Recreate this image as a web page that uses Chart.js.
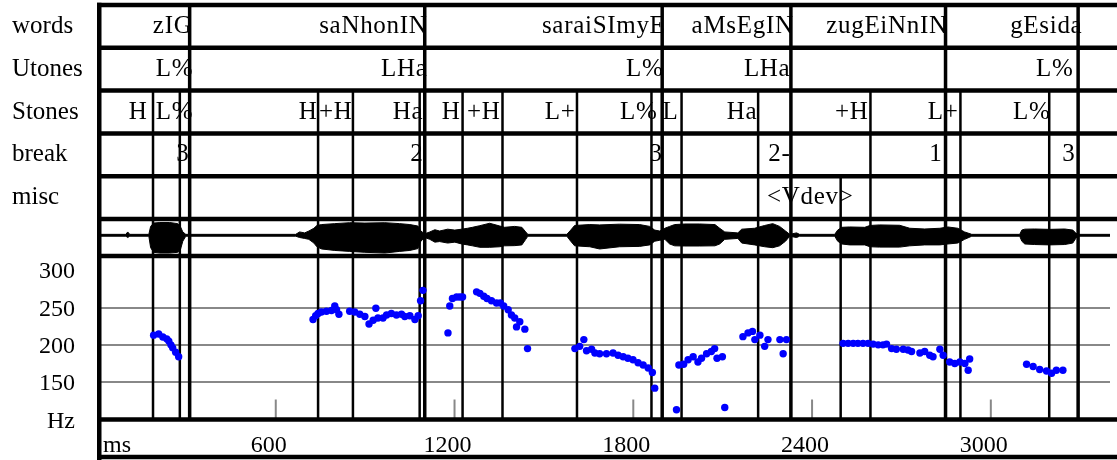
<!DOCTYPE html>
<html>
<head>
<meta charset="utf-8">
<script src="https://cdn.jsdelivr.net/npm/chart.js@4/dist/chart.umd.min.js"></script>
<style>
  html, body { margin: 0; padding: 0; background: #fff; }
</style>
</head>
<body>
<canvas id="plot" width="1117" height="460"></canvas>
<script>
// tiers (label text is right-aligned at its time, in ms)
const tierNames = ["words", "Utones", "Stones", "break", "misc"];
const wordLabels = ["zIG", "saNhonIN", "saraiSImyE", "aMsEgIN", "zugEiNnIN", "gEsida"];
const wordEndMs = [318, 1107, 1906, 2336, 2853, 3305];
const wordLineMs = [311, 1100, 1897, 2329, 2848, 3293];
const utoneLabels = ["L%", "LHa", "L%", "LHa", "L%"];
const utoneEndMs = [321, 1107, 1899, 2325, 3275];
const stoneLabels = ["H", "L%", "H", "+H", "Ha", "H", "+H", "L+", "L%", "L", "Ha", "+H", "L+", "L%"];
const stoneEndMs = [167, 321, 738, 855, 1093, 1218, 1352, 1604, 1879, 1949, 2214, 2587, 2889, 3198];
const stoneLineMs = [188, 278, 742, 859, 1083, 1227, 1361, 1611, 1861, 1962, 2219, 2596, 2898, 3196];
const breakLabels = ["3", "2", "3", "2-", "1", "3"];
const breakEndMs = [308, 1093, 1896, 2325, 2835, 3282];
const miscLabels = ["<Vdev>"];
const miscEndMs = [2537];
const miscLineMs = [2496];

// axes
const timeTicks = [600, 1200, 1800, 2400, 3000];
const hzTicks = [100, 150, 200, 250, 300];
const hzGrid = [150, 200, 250];

// waveform envelope (time ms, upper, lower)
const waveMs = [0, 97, 103, 110, 174, 180, 190, 211, 244, 271, 281, 288, 298, 667, 680, 697, 711, 728, 738, 754,
  798, 848, 899, 966, 1016, 1050, 1077, 1087, 1100, 1117, 1134, 1150, 1177, 1201, 1224, 1244, 1260, 1285, 1318,
  1352, 1368, 1402, 1426, 1439, 1446, 1577, 1590, 1603, 1654, 1687, 1754, 1821, 1855, 1872, 1889, 1906, 1922,
  1939, 1973, 2023, 2074, 2090, 2107, 2151, 2164, 2207, 2241, 2268, 2291, 2311, 2325, 2348, 2358, 2476, 2486,
  2500, 2526, 2577, 2594, 2627, 2694, 2728, 2778, 2829, 2856, 2889, 2912, 2936, 3097, 3104, 3114, 3147, 3197,
  3248, 3275, 3285, 3291, 3400];
const waveTop = [.17, .17, .30, .17, .17, .60, .78, .81, .81, .75, .55, .30, .17, .17, .30, .25, .35, .50, .65, .70,
  .75, .80, .78, .80, .75, .70, .62, .35, .20, .30, .42, .35, .45, .40, .45, .50, .55, .64, .77,
  .62, .55, .60, .55, .30, .17, .17, .40, .65, .70, .68, .72, .70, .60, .40, .35, .50, .60,
  .70, .73, .73, .70, .50, .30, .25, .45, .50, .65, .75, .60, .35, .17, .25, .17, .17, .40,
  .55, .57, .55, .65, .68, .66, .50, .46, .50, .57, .50, .30, .17, .17, .40, .45, .46, .44,
  .46, .40, .25, .17, .17];
const waveBottom = [.07, .07, .00, .07, .07, -.55, -.80, -.84, -.84, -.80, -.60, -.20, .07, .07, .00, -.05, -.10, -.30, -.50, -.62,
  -.70, -.75, -.80, -.84, -.75, -.70, -.60, -.20, .00, -.10, -.25, -.22, -.30, -.25, -.35, -.40, -.45, -.53, -.53,
  -.50, -.45, -.44, -.40, -.10, .07, .07, -.20, -.45, -.50, -.62, -.50, -.48, -.40, -.20, -.15, -.10, -.35,
  -.45, -.46, -.46, -.45, -.35, -.10, -.05, -.30, -.40, -.50, -.55, -.45, -.20, .07, .00, .07, .07, -.20,
  -.35, -.40, -.40, -.50, -.52, -.52, -.45, -.40, -.40, -.35, -.30, -.10, .07, .07, -.20, -.35, -.38, -.40,
  -.38, -.30, -.05, .07, .07];

// pitch track
const pitchMs = [190, 207, 221, 234, 241, 248, 254, 264, 274,
  725, 734, 742, 753, 770, 787, 798, 804, 812, 848, 865, 882, 899, 913, 927, 936, 943, 960, 972, 988, 1005, 1022, 1033, 1050, 1067, 1078, 1086, 1094,
  1178, 1184, 1193, 1207, 1218, 1227, 1274, 1285, 1298, 1309, 1324, 1341, 1354, 1365, 1380, 1391, 1402, 1408, 1419, 1436, 1445,
  1604, 1620, 1634, 1643, 1660, 1671, 1687, 1710, 1732, 1749, 1766, 1782, 1799, 1816, 1833, 1850, 1864, 1872,
  1945, 1953, 1969, 1984, 2001, 2017, 2029, 2046, 2062, 2073, 2081, 2099, 2107,
  2168, 2185, 2200, 2208, 2225, 2241, 2252, 2292, 2314, 2303,
  2504, 2521, 2538, 2554, 2571, 2588, 2605, 2622, 2638, 2650, 2667, 2683, 2706, 2722, 2734, 2762, 2778, 2795, 2806, 2829, 2840, 2862, 2879, 2896, 2913, 2924, 2929,
  3120, 3142, 3164, 3187, 3204, 3220, 3242];
const pitchHz = [213, 214.5, 210.5, 208, 205, 200, 196, 190, 184,
  234, 239, 242, 244, 245, 246, 252, 247, 241, 245, 244, 241, 238, 228, 233, 249, 236, 236, 240, 242, 240, 241, 238, 239, 234, 239, 259, 273,
  216, 252, 262, 264, 264, 264, 271, 269, 265, 262, 259, 256, 256, 252, 247, 240, 236, 224, 231, 221, 195,
  195, 198, 207, 192, 194, 189, 188, 188, 189, 186, 184, 182, 180, 176, 173, 169, 163, 142,
  113, 173, 174, 180, 184, 177, 182, 188, 191, 195, 182, 184, 116,
  211, 216, 218, 207, 213, 198, 207, 207, 207, 188,
  202, 202, 202, 202, 202, 202, 201, 200, 200, 201, 195, 194, 194, 193, 191, 189, 191, 186, 184, 194, 186, 177, 175, 177, 175, 166, 181,
  174, 171, 167, 165, 162, 166, 166];

const serif = { family: "Liberation Serif", size: 24 };
Chart.defaults.font.family = "Liberation Serif";

// every left axis shares one column
const fixLeft = s => { s.width = 85; s.paddingTop = 0; s.paddingBottom = 0; };

const tierPlugin = {
  id: "tiers",
  beforeDatasetsDraw(chart) {
    const { ctx, chartArea } = chart;
    const { x, yTiers, yWave, yPitch } = chart.scales;
    const rowH = (yTiers.bottom - yTiers.top) / tierNames.length;
    const left = chartArea.left;

    const seg = (x1, y1, x2, y2) => {
      ctx.beginPath();
      ctx.moveTo(x1, y1);
      ctx.lineTo(x2, y2);
      ctx.stroke();
    };

    ctx.save();

    // small grey time ticks at the bottom of the pitch panel
    ctx.strokeStyle = "#888";
    ctx.lineWidth = 2;
    timeTicks.forEach(t => {
      const px = x.getPixelForValue(t);
      seg(px, yPitch.bottom - 20, px, yPitch.bottom);
    });

    // boundary lines run from their tier down through the signals
    ctx.strokeStyle = "#000";
    ctx.lineWidth = 3.5;
    wordLineMs.forEach(t => {
      const px = x.getPixelForValue(t);
      seg(px, yTiers.top, px, yPitch.bottom);
    });
    ctx.lineWidth = 2.5;
    stoneLineMs.forEach(t => {
      const px = x.getPixelForValue(t);
      seg(px, yTiers.top + 2 * rowH, px, yPitch.bottom);
    });
    miscLineMs.forEach(t => {
      const px = x.getPixelForValue(t);
      seg(px, yTiers.top + 4 * rowH, px, yPitch.bottom);
    });

    // thick separators
    ctx.lineWidth = 4.5;
    const rows = [];
    for (let i = 0; i <= tierNames.length; i++) rows.push(yTiers.top + i * rowH);
    rows.push(yWave.bottom, yPitch.bottom, chart.height - 3);
    rows.forEach(y => seg(left, y, chart.width, y));
    seg(left + 2.25, yTiers.top - 2.25, left + 2.25, chart.height);

    // tier labels
    ctx.fillStyle = "#000";
    ctx.font = '25px "Liberation Serif"';
    ctx.letterSpacing = "0.7px";
    ctx.textAlign = "right";
    ctx.textBaseline = "middle";
    const tiers = [
      [wordLabels, wordEndMs],
      [utoneLabels, utoneEndMs],
      [stoneLabels, stoneEndMs],
      [breakLabels, breakEndMs],
      [miscLabels, miscEndMs]
    ];
    tiers.forEach(([labels, times], i) => {
      const y = yTiers.getPixelForValue(i);
      labels.forEach((lab, j) => ctx.fillText(lab, x.getPixelForValue(times[j]) + 0.7, y));
    });

    ctx.letterSpacing = "0px";
    ctx.font = '24px "Liberation Serif"';
    ctx.textAlign = "left";
    ctx.fillText("ms", x.getPixelForValue(0) + 6, yPitch.bottom + 12 + 14.4);

    ctx.restore();
  }
};

new Chart(document.getElementById("plot").getContext("2d"), {
  data: {
    datasets: [
      {
        type: "line",
        data: waveMs.map((t, i) => ({ x: t, y: waveTop[i] })),
        yAxisID: "yWave",
        borderColor: "#000",
        borderWidth: 1,
        pointRadius: 0,
        tension: 0,
        fill: false
      },
      {
        type: "line",
        data: waveMs.map((t, i) => ({ x: t, y: waveBottom[i] })),
        yAxisID: "yWave",
        borderColor: "#000",
        backgroundColor: "#000",
        borderWidth: 1,
        pointRadius: 0,
        tension: 0,
        fill: "-1"
      },
      {
        type: "scatter",
        data: pitchMs.map((t, i) => ({ x: t, y: pitchHz[i] })),
        yAxisID: "yPitch",
        backgroundColor: "#0000ff",
        borderWidth: 0,
        pointRadius: 3.7,
        pointHoverRadius: 3.7
      }
    ]
  },
  options: {
    responsive: false,
    animation: false,
    layout: { padding: { left: 12, right: 7, top: 5, bottom: 0 } },
    plugins: { legend: { display: false }, tooltip: { enabled: false } },
    scales: {
      x: {
        type: "linear",
        position: "bottom",
        min: 0,
        max: 3400,
        grid: { display: false, drawTicks: false },
        border: { display: false },
        afterBuildTicks: s => { s.ticks = timeTicks.map(v => ({ value: v })); },
        afterFit: s => { s.height = 40.5; s.paddingLeft = 0; s.paddingRight = 0; },
        ticks: {
          padding: 12,
          labelOffset: -7,
          maxRotation: 0,
          minRotation: 0,
          autoSkip: false,
          color: "#000",
          font: serif,
          callback: v => String(v)
        }
      },
      yTiers: {
        type: "category",
        labels: tierNames,
        position: "left",
        stack: "rows",
        stackWeight: 214,
        weight: 3,
        offset: true,
        grid: { display: false, drawTicks: false },
        border: { display: false },
        afterFit: fixLeft,
        ticks: { crossAlign: "far", padding: 0, autoSkip: false, color: "#000", font: { family: "Liberation Serif", size: 25 } }
      },
      yWave: {
        type: "linear",
        position: "left",
        stack: "rows",
        stackWeight: 37,
        weight: 2,
        min: -1,
        max: 1,
        grid: { display: false, drawTicks: false },
        border: { display: false },
        afterFit: fixLeft,
        ticks: { display: false }
      },
      yPitch: {
        type: "linear",
        position: "left",
        stack: "rows",
        stackWeight: 163.5,
        weight: 1,
        min: 100,
        max: 319,
        grid: {
          drawTicks: false,
          lineWidth: 2,
          color: c => (c.tick && hzGrid.includes(c.tick.value)) ? "#888" : "rgba(0,0,0,0)"
        },
        border: { display: false },
        afterBuildTicks: s => { s.ticks = hzTicks.map(v => ({ value: v })); },
        afterFit: fixLeft,
        ticks: {
          padding: 22,
          labelOffset: 2,
          autoSkip: false,
          color: "#000",
          font: serif,
          callback: v => v === 100 ? "Hz" : String(v)
        }
      }
    }
  },
  plugins: [tierPlugin]
});
</script>
</body>
</html>
